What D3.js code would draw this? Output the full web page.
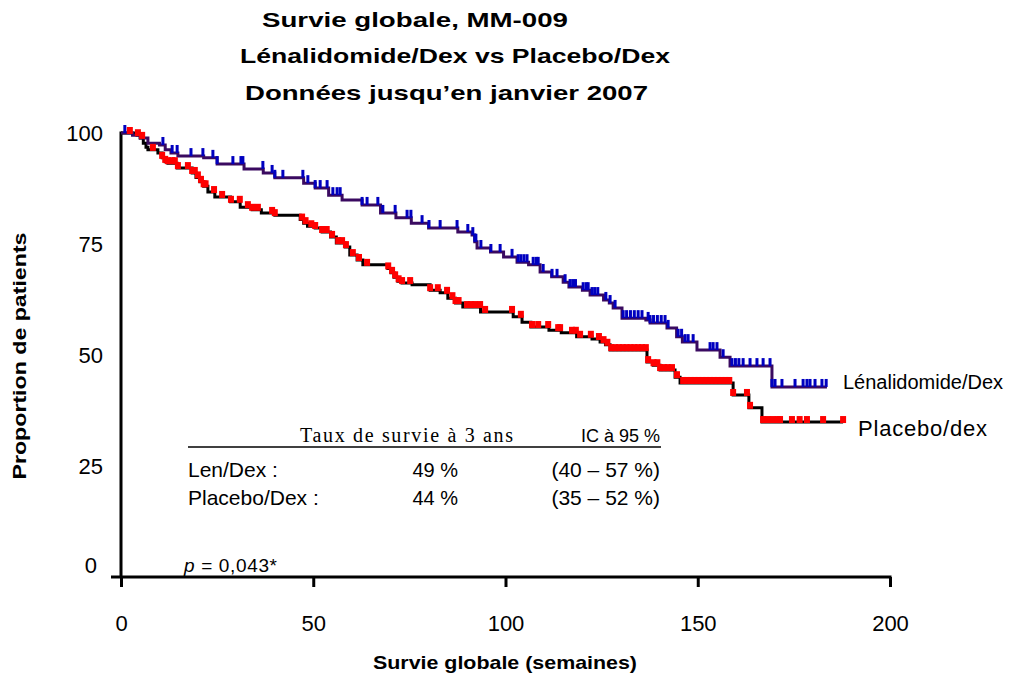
<!DOCTYPE html>
<html><head><meta charset="utf-8">
<script src="https://cdn.jsdelivr.net/npm/d3@7"></script>
<style>body{margin:0;background:#fff}svg{display:block}</style>
</head><body><svg id="c" width="1022" height="675"></svg>
<script>
// ---- data (weeks, % surviving) ----
const xTicks = [0, 50, 100, 150, 200];
const yTicks = [0, 25, 50, 75, 100];
const titleLines = ["Survie globale,  MM-009", "Lénalidomide/Dex vs Placebo/Dex", "Données jusqu’en janvier 2007"];
const seriesNames = ["Lénalidomide/Dex", "Placebo/dex"];

const lenSteps = [[0,100],[3,99.5],[5,98.9],[7,97.7],[10,97.3],[11.5,96.2],[13,95.5],[14.8,94.8],[21.5,94.4],[25,93.0],[32,91.9],[37,91.0],[40,89.9],[47.5,88.7],[50.5,87.6],[54,86.0],[57.5,84.9],[62.7,83.8],[67.5,82.0],[71.5,80.9],[75.5,79.7],[80,78.6],[87.6,77.7],[91.3,77.0],[92,75.5],[92.6,74.1],[96.1,73.2],[99.5,72.1],[103,70.9],[106,70.3],[109,68.7],[112,67.6],[115,66.4],[116.5,65.3],[120,64.6],[122,63.5],[125.5,62.4],[127,61.7],[128,60.6],[130.3,58.3],[136.5,57.9],[137.6,57.2],[142,56.1],[144.5,54.1],[146,52.9],[149.8,51.1],[155.8,49.5],[158.4,47.5],[169.3,42.8]];
const lenEnd = 183.6;
const lenCensor = [1.0,10.9,13.3,14.6,18.2,21.3,23.9,25.0,29.1,31.2,31.7,36.9,39.3,40.0,42.1,47.3,48.6,50.5,51.8,53.6,55.1,56.2,57.0,62.7,64.0,66.8,68.1,71.3,74.4,75.4,78.3,80.1,83.0,87.4,90.2,91.5,92.0,92.3,93.6,96.2,98.6,101.7,103.3,104.0,104.8,105.6,107.2,108.0,108.5,109.8,112.1,113.4,115.5,116.8,117.5,118.2,120.2,121.0,121.5,122.5,123.2,124.0,126.1,127.2,128.5,130.6,131.5,132.5,133.5,134.5,135.5,137.1,137.6,138.5,139.5,140.5,141.5,142.3,144.9,145.8,146.7,147.5,148.8,153.2,154.0,155.0,156.6,158.9,159.8,160.7,161.8,163.6,165.4,167.0,168.8,169.3,170.1,171.9,175.3,177.4,178.4,179.2,180.5,182.3,183.4];

const plaSteps = [[0,100],[4.2,99.5],[5,98.9],[5.8,97.7],[6.5,96.8],[7,96.2],[9.6,95.5],[10.7,94.4],[11.5,93.5],[12.2,93.2],[14.6,92.1],[18.5,91.0],[19.5,90.0],[20.5,89.0],[21.5,88.0],[22.6,86.7],[24.4,85.6],[28.5,84.5],[31,83.3],[34.1,82.7],[36.5,82.0],[40,81.5],[46.6,80.5],[47.5,79.7],[48.5,79.0],[50.5,78.6],[52.3,77.7],[54.5,76.6],[56,75.2],[58.3,74.3],[59.5,72.5],[61.4,71.4],[62.9,70.3],[69.4,69.5],[70.2,68.5],[71,67.5],[72,66.6],[73.1,66.2],[75.7,65.8],[80.4,64.6],[83,64.0],[85,62.8],[87,61.7],[88.9,60.8],[93.5,59.7],[102,58.6],[104.3,57.4],[106.6,56.3],[111.3,55.6],[114.5,55.0],[118.5,54.1],[122.5,53.6],[124.6,52.9],[126,52.3],[127.2,51.1],[136.8,48.4],[138.4,47.7],[140.2,46.6],[144.1,45.0],[145.4,43.7],[159.2,41.0],[163.3,38.1],[166.7,34.9]];
const plaEnd = 187.8;
const plaCensor = [2.3,4.4,5.5,8.3,10.7,11.5,12.2,13.3,14.0,14.8,17.4,18.5,19.2,20.0,20.8,21.5,22.0,24.2,26.3,28.6,30.9,33.0,34.1,35.6,39.3,40.0,47.1,48.0,49.5,50.5,52.3,53.5,54.9,56.5,57.5,58.5,60.3,61.9,64.0,69.5,70.5,71.3,72.2,73.1,75.2,80.4,82.4,84.8,86.2,87.0,87.8,90.0,91.0,92.1,93.4,94.7,101.7,104.0,106.9,108.5,111.1,113.7,114.2,117.3,118.3,119.4,122.2,124.3,125.5,126.5,127.5,128.5,129.5,130.5,131.5,132.5,133.5,134.5,135.5,136.5,137.1,138.5,139.5,140.2,141.2,142.2,143.3,144.6,146.2,147.2,148.2,149.2,150.2,151.2,152.2,153.2,154.2,155.2,156.2,157.2,158.2,159.2,162.8,163.6,167.0,168.2,169.5,170.8,171.4,174.5,176.5,178.4,182.6,187.8];

const tableHeader = ["Taux de survie à 3 ans", "IC à 95 %"];
const tableRows = [["Len/Dex :", "49 %", "(40 – 57 %)"], ["Placebo/Dex :", "44 %", "(35 – 52 %)"]];
const pText = ["p", " = 0,043*"];

// ---- drawing ----
const svg = d3.select("#c");
const x = d3.scaleLinear().domain([0, 200]).range([121, 890]);
const y = d3.scaleLinear().domain([0, 100]).range([577, 133]);
const sans = "'Liberation Sans', Arial, sans-serif";
const serif = "'Liberation Serif', 'Times New Roman', serif";

function txt(xp, yp, s, o = {}) {
  const t = svg.append("text").attr("x", xp).attr("y", yp)
    .attr("font-family", o.family || sans).attr("font-size", o.size || 20)
    .attr("font-weight", o.bold ? "bold" : null).attr("fill", "#000")
    .attr("text-anchor", o.anchor || "start").text(s);
  if (o.len) t.attr("textLength", o.len).attr("lengthAdjust", o.adj || "spacing");
  return t;
}

// titles
const tpos = [[262, 27, 306], [240, 63, 430], [245, 100, 403]];
titleLines.forEach((t, i) => txt(tpos[i][0], tpos[i][1], t, {bold: true, size: 21, len: tpos[i][2], adj: "spacingAndGlyphs"}));

// axes
const gx = svg.append("g").attr("transform", `translate(0,${y(0)})`)
  .call(d3.axisBottom(x).tickValues(xTicks).tickSize(10).tickPadding(28).tickFormat(d3.format("d")));
gx.select(".domain").remove();
gx.selectAll(".tick line").attr("stroke", "#000").attr("stroke-width", 3);
gx.selectAll(".tick text").attr("font-family", sans).attr("font-size", 22).attr("fill", "#000");
svg.append("line").attr("x1", 111).attr("x2", x(200) + 1.5).attr("y1", y(0)).attr("y2", y(0)).attr("stroke", "#000").attr("stroke-width", 3);

const gy = svg.append("g").attr("transform", `translate(${x(0)},0)`)
  .call(d3.axisLeft(y).tickValues(yTicks).tickSize(0).tickPadding(18));
gy.select(".domain").remove();
gy.selectAll(".tick text").attr("font-family", sans).attr("font-size", 22).attr("fill", "#000")
  .attr("dy", d => d === 0 ? "-0.2em" : "0.32em").attr("dx", d => d === 0 ? -6 : 0);
svg.append("line").attr("x1", x(0)).attr("x2", x(0)).attr("y1", y(100) - 1.5).attr("y2", y(0)).attr("stroke", "#000").attr("stroke-width", 3);

// axis titles
txt(505, 669, "Survie globale (semaines)", {bold: true, size: 19, anchor: "middle", len: 264, adj: "spacingAndGlyphs"});
txt(0, 0, "Proportion de patients", {bold: true, size: 19, anchor: "middle", len: 247, adj: "spacingAndGlyphs"})
  .attr("transform", "translate(26,356) rotate(-90)");

// curves
const stepVal = (steps, t) => { let v = steps[0][1]; for (const s of steps) { if (s[0] <= t) v = s[1]; } return v; };
const line = d3.line().x(d => x(d[0])).y(d => y(d[1])).curve(d3.curveStepAfter);
const lenPts = lenSteps.concat([[lenEnd, lenSteps[lenSteps.length - 1][1]]]);
const plaPts = plaSteps.concat([[plaEnd, plaSteps[plaSteps.length - 1][1]]]);

svg.append("path").attr("d", line(plaPts)).attr("fill", "none").attr("stroke", "#000").attr("stroke-width", 3);
svg.append("path").attr("d", line(lenPts)).attr("fill", "none").attr("stroke", "#3a0a60").attr("stroke-width", 3);

svg.append("g").selectAll("rect").data(lenCensor).join("rect")
  .attr("x", d => x(d) - 1.5).attr("y", d => y(stepVal(lenSteps, d)) - 8)
  .attr("width", 3).attr("height", 8).attr("fill", "#0000c0");
svg.append("g").selectAll("rect").data(plaCensor).join("rect")
  .attr("x", d => x(d) - 3).attr("y", d => y(stepVal(plaSteps, d)) - 6)
  .attr("width", 6).attr("height", 7).attr("fill", "#ff0000");

// series labels
txt(843, 389, seriesNames[0], {size: 20, len: 160});
txt(858, 436, seriesNames[1], {size: 22, len: 129});

// table
txt(300, 442, tableHeader[0], {family: serif, size: 20, len: 213});
txt(660, 442, tableHeader[1], {size: 18, anchor: "end"});
svg.append("line").attr("x1", 188).attr("x2", 661).attr("y1", 447).attr("y2", 447).attr("stroke", "#000").attr("stroke-width", 1.3);
tableRows.forEach((r, i) => {
  const yy = 477 + i * 28;
  txt(188, yy, r[0], {size: 21});
  txt(458, yy, r[1], {size: 20, anchor: "end"});
  txt(660, yy, r[2], {size: 21, anchor: "end"});
});

// p value
const pt = svg.append("text").attr("x", 184).attr("y", 572).attr("font-family", sans).attr("font-size", 19)
  .attr("textLength", 93).attr("lengthAdjust", "spacing");
pt.append("tspan").attr("font-style", "italic").text(pText[0]);
pt.append("tspan").text(pText[1]);
</script></body></html>
